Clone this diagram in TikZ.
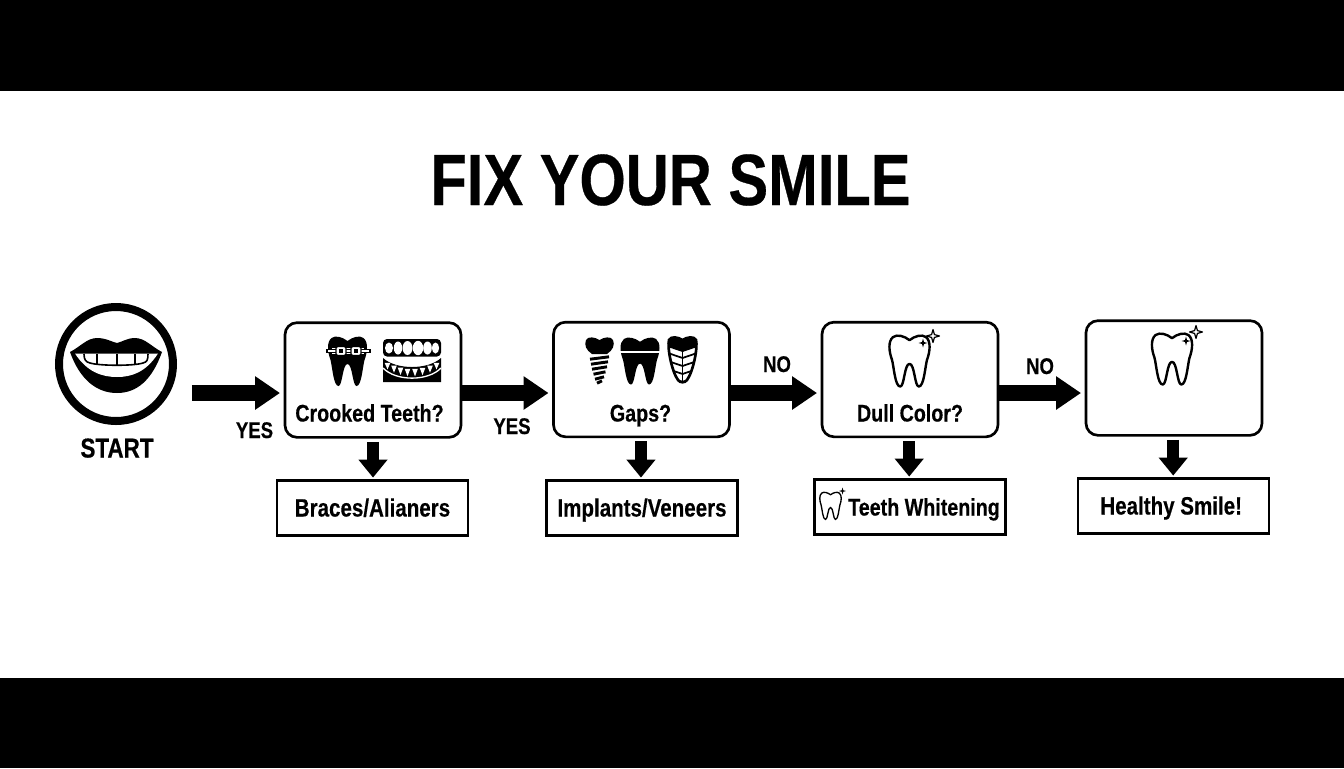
\documentclass[tikz,border=0pt]{standalone}
\usepackage{fontspec}
\setmainfont{Liberation Sans}[FakeStretch=0.82,FakeBold=0.4]
\usetikzlibrary{arrows.meta,calc}
\newcommand{\toothpath}{(0,5) .. controls (-5,1) and (-12,-1) .. (-16,2) .. controls (-21,6) and (-20,16) .. (-17,24) .. controls (-15,32) and (-14,50) .. (-9,50) .. controls (-5,50) and (-5,28) .. (0,28) .. controls (5,28) and (5,50) .. (9,50) .. controls (14,50) and (15,32) .. (17,24) .. controls (20,16) and (21,6) .. (16,2) .. controls (12,-1) and (5,1) .. (0,5) -- cycle}
\newcommand{\starpath}{(0,-1) -- (.22,-.22) -- (1,0) -- (.22,.22) -- (0,1) -- (-.22,.22) -- (-1,0) -- (-.22,-.22) -- cycle}
\newcommand{\veneerpath}{(682.5,340) .. controls (678,337) and (671,336) .. (669,340) .. controls (667,348) and (672,372) .. (678,380) .. controls (680,383) and (685,383) .. (687,380) .. controls (693,372) and (698,348) .. (696,340) .. controls (694,336) and (687,337) .. (682.5,340) -- cycle}
\tikzset{
  qbox/.style={draw=black,fill=white,rounded corners=9pt,line width=2pt,minimum width=132pt,minimum height=86pt,inner sep=0pt,outer sep=0pt},
  rbox/.style={draw=black,fill=white,line width=1.8pt,minimum width=143pt,minimum height=41pt,inner sep=0pt,outer sep=0pt,font=\bfseries\fontsize{18.8}{22}\selectfont,text height=15.75pt,text depth=3pt},
  lab/.style={font=\bfseries\fontsize{18}{21}\selectfont,anchor=base,inner sep=0pt},
  ynlab/.style={font=\bfseries\fontsize{17}{20}\selectfont,anchor=base,inner sep=0pt},
  harrow/.style={line width=12pt,-{Triangle[length=18.75pt,width=24pt]},shorten >=3.75pt},
  varrow/.style={line width=9pt,-{Triangle[length=13.5pt,width=21pt]},shorten <=3.4pt,shorten >=2.3pt},
  toothline/.style={draw=black,fill=white,line join=round}
}
\begin{document}
\begin{tikzpicture}[x=0.75pt,y=-0.75pt]
\useasboundingbox (0,0) rectangle (1344,768);
\fill[black] (0,0) rectangle (1344,91);
\fill[black] (0,678) rectangle (1344,768);

\node[font=\bfseries\fontsize{54.5}{60}\selectfont,anchor=base,inner sep=0pt] (title) at (670.5,205) {FIX YOUR SMILE};

% start
\node[circle,draw=black,line width=6pt,minimum size=85.5pt,inner sep=0pt,outer sep=2.9pt] (start) at (116,364) {};
\fill[black] (70,352) .. controls (80,347) and (87,338) .. (97,338) .. controls (106,338) and (112,342) .. (117,343) .. controls (122,342) and (127,338) .. (135,338) .. controls (145,338) and (152,347) .. (162,352) .. controls (152,380) and (137,393) .. (117,393) .. controls (97,393) and (80,380) .. (70,352) -- cycle;
\fill[white] (75,353.5) -- (158,353.5) .. controls (146,372) and (132,377) .. (117,377) .. controls (102,377) and (87,372) .. (75,353.5) -- cycle;
\draw[black,line width=1.2pt,line join=round] (84,354) .. controls (84,360) and (86,362) .. (90,363) .. controls (100,366) and (134,366) .. (143,363) .. controls (147,362) and (148,360) .. (148,354);
\draw[black,line width=1.2pt] (97,354) -- (97,364.5) (117,354) -- (117,366) (135,354) -- (135,364.5);
\node[ynlab,font=\bfseries\fontsize{20.5}{24}\selectfont] (startlab) at (117,457.5) {START};

% decision boxes
\node[qbox] (q1) at (373,380) {};
\node[qbox] (q2) at (641.5,379.5) {};
\node[qbox] (q3) at (910,379.5) {};
\node[qbox] (q4) at (1174,378) {};

\node[lab] (q1lab) at (369.5,421.5) {Crooked Teeth?};
\node[lab] (q2lab) at (640.5,421.5) {Gaps?};
\node[lab] (q3lab) at (910,421.5) {Dull Color?};

% result boxes
\node[rbox] (r1) at (372.5,508) {Braces/Alianers};
\node[rbox] (r2) at (642,508) {Implants/Veneers};
\node[rbox,font=\bfseries\fontsize{18}{21}\selectfont] (r3) at (910,507) {\hspace*{21pt}Teeth Whitening};
\node[rbox] (r4) at (1173.5,506) {\hspace*{-3.5pt}Healthy Smile!};

% connectors
\coordinate (axis) at (0,393);
\draw[harrow] ([xshift=11.25pt]start.east |- axis) -- (q1.west |- axis);
\draw[harrow] (q1.east |- axis) -- (q2.west |- axis);
\draw[harrow] (q2.east |- axis) -- (q3.west |- axis);
\draw[harrow] (q3.east |- axis) -- (q4.west |- axis);
\draw[varrow] (q1.south) -- (q1.south |- r1.north);
\draw[varrow] ([xshift=-.4pt]q2.south) -- ([xshift=-.4pt]q2.south |- r2.north);
\draw[varrow] ([xshift=-.6pt]q3.south) -- ([xshift=-.6pt]q3.south |- r3.north);
\draw[varrow] ([xshift=-.6pt]q4.south) -- ([xshift=-.6pt]q4.south |- r4.north);

\node[ynlab] (yes1) at (254.5,438) {YES};
\node[ynlab] (yes2) at (512,434) {YES};
\node[ynlab] (no1) at (777,372) {NO};
\node[ynlab] (no2) at (1040,374) {NO};

% braces tooth
\begin{scope}[shift={(347.5,336)}]
\fill[black] \toothpath;
\end{scope}
\draw[white,line width=4.5pt] (332,351) -- (364,351);
\draw[black,fill=white,line width=.8pt] (327,349.3) rectangle (370,352.7);
\draw[black,fill=white,line width=1pt,rounded corners=1pt] (336,346.5) rectangle (346,355.5);
\draw[black,fill=white,line width=1pt,rounded corners=1pt] (351,346.5) rectangle (361,355.5);
\fill[black] (339,349) rectangle (343,353);
\fill[black] (354,349) rectangle (358,353);

% denture
\fill[black,rounded corners=3pt] (383,339) rectangle (441,356.5);
\foreach \cx/\rx/\ry in {389/4/5.5,398/4.2/6.5,407.5/5/7,418/5.2/7.2,427.5/4.3/6.5,435.5/3.6/5.5}
  \fill[white] (\cx,348) ellipse [x radius=\rx,y radius=\ry];
\fill[black] (383,358) -- (383,382) -- (441,382) -- (441,358) .. controls (428,370) and (396,370) .. (383,358) -- cycle;
\draw[white,line width=1pt] (383,368) .. controls (396,381.5) and (428,381.5) .. (441,368);
\foreach \cx in {387.5,394,400.5,407.5,415,422.5,430,436.5} {
  \pgfmathsetmacro{\dd}{1-((\cx-412)/29)^2}
  \pgfmathsetmacro{\tt}{360.5+8.5*\dd}
  \pgfmathsetmacro{\bb}{366.5+10*\dd}
  \fill[white] (\cx-2.8,\tt) -- (\cx+2.8,\tt) -- (\cx,\bb) -- cycle;
}

% implant
\fill[black] (599.5,340) .. controls (595,337) and (588,336) .. (586,340) .. controls (584,345) and (586,350) .. (592,354) -- (607,354) .. controls (613,350) and (615,345) .. (613,340) .. controls (611,336) and (604,337) .. (599.5,340) -- cycle;
\foreach \yy/\hw in {358/9.5,363/8.5,368/7.5,373/6,378/4.5,382/2.5}
  \draw[black,line width=2.2pt] (599.5-\hw,\yy+1.2) -- (599.5+\hw,\yy-1.2);

% crown tooth
\begin{scope}[shift={(640,337)},xscale=1,yscale=.95]
\fill[black] \toothpath;
\end{scope}
\draw[white,line width=1.5pt] (619,352) -- (661,352);

% veneer
\begin{scope}
\clip \veneerpath;
\fill[white] (665,335) rectangle (700,385);
\fill[black] (665,335) -- (700,335) -- (700,346) -- (682.5,352) -- (665,346) -- cycle;
\foreach \yy in {352,360,368,376}
  \draw[black,line width=1.3pt] (665,\yy) -- (682.5,\yy+6) -- (700,\yy);
\draw[black,line width=1.3pt] (682.5,350) -- (682.5,383);
\end{scope}
\draw[black,line width=2pt] \veneerpath;

% dull tooth
\begin{scope}[shift={(909.5,335)},scale=1.03]
\path[toothline,line width=1.8pt] \toothpath;
\end{scope}
\begin{scope}[shift={(933,336)},scale=6.5]
\path[toothline,line width=.9pt] \starpath;
\end{scope}
\begin{scope}[shift={(923,343)},scale=4.5]
\fill[black] \starpath;
\end{scope}

% final tooth
\begin{scope}[shift={(1172,333)},scale=1.03]
\path[toothline,line width=1.8pt] \toothpath;
\end{scope}
\begin{scope}[shift={(1196,332)},scale=6.5]
\path[toothline,line width=.9pt] \starpath;
\end{scope}
\begin{scope}[shift={(1186,341)},scale=4.5]
\fill[black] \starpath;
\end{scope}

% small tooth in result box
\begin{scope}[shift={(830.5,492)},scale=.55]
\path[toothline,line width=1pt] \toothpath;
\end{scope}
\begin{scope}[shift={(842.5,491)},scale=3.5]
\fill[black] \starpath;
\end{scope}
\end{tikzpicture}
\end{document}
